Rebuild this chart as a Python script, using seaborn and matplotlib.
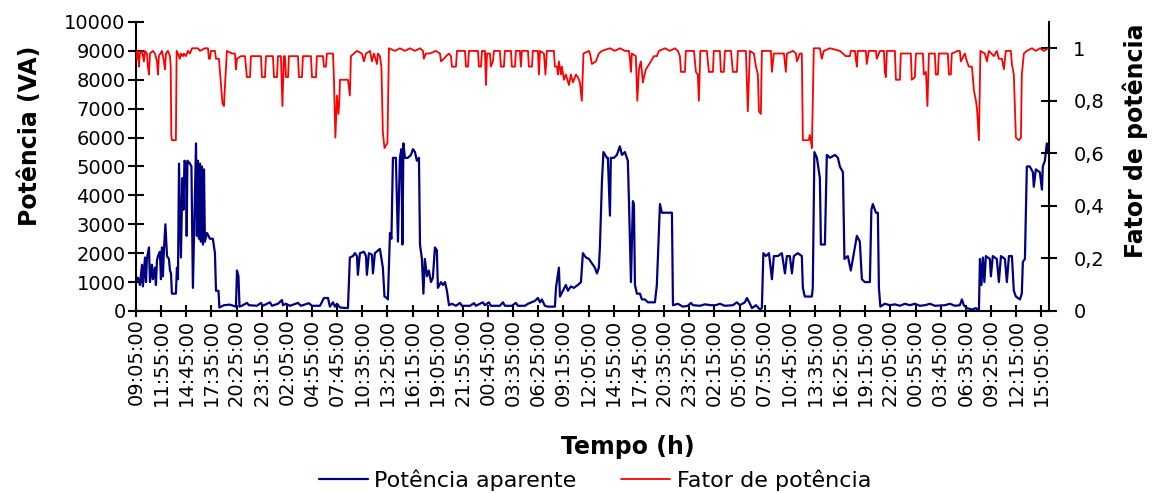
import numpy as np
import pandas as pd
import seaborn as sns
import matplotlib
matplotlib.use('Agg')
import matplotlib.pyplot as plt

# Tempo em minutos desde 09:05:00 do primeiro dia
tempo_s = [
    0, 14, 27, 41, 47, 61, 68, 74, 88, 95,
    108, 115, 128, 135, 142, 149, 162, 169, 176, 182,
    189, 199, 210, 223, 230, 237, 243, 270, 277, 284,
    291, 304, 314, 321, 328, 338, 343, 348, 365, 375,
    385, 406, 412, 419, 426, 433, 439, 446, 453, 460,
    466, 480, 500, 520, 534, 541, 558, 564, 595, 635,
    676, 683, 693, 700, 723, 750, 764, 818, 845, 858,
    906, 919, 960, 987, 994, 1014, 1041, 1095, 1115, 1169,
    1190, 1244, 1271, 1298, 1311, 1332, 1345, 1359, 1379, 1433,
    1446, 1467, 1480, 1494, 1500, 1514, 1541, 1555, 1561, 1575,
    1595, 1602, 1615, 1649, 1669, 1680, 1697, 1703, 1717, 1727,
    1737, 1757, 1771, 1784, 1794, 1801, 1808, 1818, 1838, 1859,
    1872, 1886, 1899, 1913, 1920, 1933, 1943, 1953, 1967, 1980,
    1994, 2007, 2021, 2034, 2041, 2062, 2075, 2089, 2102, 2116,
    2136, 2163, 2190, 2203, 2258, 2285, 2298, 2345, 2359, 2386,
    2399, 2460, 2481, 2494, 2541, 2568, 2582, 2629, 2650, 2697,
    2717, 2731, 2744, 2764, 2785, 2832, 2839, 2859, 2866, 2886,
    2906, 2920, 2940, 2960, 2987, 3008, 3021, 3042, 3062, 3082,
    3102, 3116, 3129, 3136, 3150, 3160, 3183, 3190, 3204, 3210,
    3231, 3251, 3271, 3285, 3305, 3325, 3332, 3346, 3359, 3366,
    3373, 3386, 3407, 3420, 3440, 3461, 3508, 3521, 3542, 3555,
    3623, 3630, 3663, 3697, 3731, 3751, 3765, 3812, 3846, 3886,
    3920, 3947, 3981, 4035, 4062, 4082, 4116, 4130, 4150, 4164,
    4191, 4218, 4231, 4241, 4258, 4279, 4299, 4312, 4339, 4366,
    4387, 4400, 4420, 4434, 4447, 4474, 4501, 4508, 4521, 4569,
    4575, 4586, 4603, 4623, 4630, 4657, 4670, 4691, 4725, 4745,
    4758, 4779, 4789, 4812, 4832, 4846, 4873, 4893, 4907, 4927,
    4961, 4971, 4981, 5002, 5015, 5022, 5032, 5062, 5096, 5130,
    5164, 5198, 5231, 5265, 5299, 5333, 5367, 5400, 5468, 5502,
    5536, 5569, 5583, 5596, 5617, 5651, 5678, 5698, 5705, 5715,
    5725, 5735, 5745, 5772, 5779, 5792, 5819, 5833, 5847, 5874,
    5887, 5901, 5921, 5934, 5948, 5975, 5988, 5995, 6009, 6022,
    6042, 6063, 6069, 6083, 6110, 6124, 6130, 6144, 6157, 6167,
]

# Potencia aparente (VA)
potencia_s = [
    1050, 1150, 900, 1600, 850, 1850, 1000, 1800, 2200, 1000,
    1600, 1100, 1500, 900, 1750, 1900, 2050, 1100, 2200, 1200,
    2100, 3000, 1900, 1800, 1400, 1300, 600, 600, 1500, 1100,
    5100, 1850, 4600, 3500, 5200, 5100, 2600, 5200, 5100, 5000,
    800, 5800, 2600, 5200, 2500, 5100, 2400, 5000, 2300, 4900,
    2400, 2700, 2500, 2500, 2000, 700, 700, 120, 200, 220,
    150, 1400, 1200, 150, 200, 280, 200, 180, 280, 180,
    300, 180, 250, 380, 200, 250, 180, 280, 180, 270,
    180, 180, 450, 450, 150, 300, 150, 250, 120, 100,
    1850, 1900, 2000, 1900, 1250, 2000, 2050, 1900, 1250, 2000,
    1950, 1300, 2000, 2150, 1500, 500, 450, 400, 2700, 2500,
    5300, 5300, 2400, 5300, 5600, 2300, 5800, 5300, 5300, 5400,
    5600, 5500, 5200, 5300, 2300, 1800, 600, 1800, 1200, 1400,
    1000, 1150, 2200, 2100, 800, 1000, 900, 1000, 700, 200,
    250, 180, 280, 180, 180, 270, 180, 300, 200, 300,
    180, 180, 300, 180, 180, 280, 180, 180, 250, 350,
    450, 300, 400, 180, 150, 150, 800, 1500, 500, 700,
    900, 700, 850, 800, 900, 1000, 2000, 1850, 1800, 1650,
    1500, 1300, 1500, 2200, 4500, 5500, 5300, 5300, 3300, 5300,
    5300, 5400, 5700, 5400, 5500, 5200, 3900, 1000, 3800, 3700,
    900, 600, 600, 400, 400, 300, 300, 900, 3700, 3400,
    3400, 200, 250, 150, 180, 280, 200, 180, 230, 200,
    200, 250, 180, 200, 300, 200, 300, 450, 250, 100,
    200, 50, 100, 2000, 1900, 2000, 1100, 1900, 1900, 2000,
    1300, 1900, 1900, 1300, 1900, 2000, 1900, 800, 500, 500,
    800, 5500, 5300, 4600, 2300, 2300, 5400, 5300, 5400, 5300,
    5000, 4800, 1800, 1900, 1400, 1800, 2600, 2400, 1100, 1000,
    1000, 3500, 3700, 3400, 3400, 800, 150, 250, 200, 230,
    180, 250, 200, 250, 180, 200, 250, 180, 200, 250,
    180, 200, 400, 200, 100, 50, 100, 0, 1800, 900,
    1850, 1000, 1900, 1800, 1200, 1900, 1800, 1000, 1900, 1800,
    1000, 1900, 1900, 700, 500, 400, 600, 1700, 1800, 5000,
    5000, 4800, 4300, 4900, 4800, 4200, 5000, 5200, 5800, 5500,
]

tempo_fp = [
    0, 7, 14, 20, 27, 41, 54, 61, 74, 81,
    88, 95, 115, 128, 142, 149, 155, 176, 189, 196,
    203, 216, 230, 235, 239, 243, 270, 275, 284, 297,
    304, 318, 324, 338, 351, 365, 379, 419, 433, 466,
    487, 493, 500, 507, 534, 541, 561, 575, 585, 595,
    602, 615, 649, 669, 676, 683, 710, 737, 750, 771,
    777, 845, 852, 872, 879, 926, 933, 953, 960, 980,
    990, 1000, 1007, 1014, 1028, 1034, 1095, 1102, 1122, 1129,
    1183, 1190, 1217, 1223, 1264, 1271, 1284, 1291, 1332, 1338,
    1348, 1359, 1369, 1375, 1379, 1433, 1446, 1453, 1474, 1494,
    1527, 1541, 1555, 1582, 1595, 1609, 1629, 1636, 1649, 1659,
    1669, 1680, 1700, 1710, 1751, 1784, 1818, 1852, 1886, 1920,
    1940, 1946, 1960, 1987, 2028, 2055, 2062, 2082, 2096, 2116,
    2129, 2136, 2163, 2170, 2224, 2231, 2244, 2251, 2312, 2318,
    2332, 2339, 2359, 2366, 2373, 2393, 2399, 2413, 2420, 2460,
    2467, 2487, 2494, 2535, 2541, 2562, 2568, 2595, 2602, 2609,
    2650, 2656, 2677, 2683, 2717, 2724, 2731, 2758, 2768, 2778,
    2825, 2832, 2846, 2852, 2859, 2873, 2879, 2893, 2906, 2927,
    2940, 2954, 2974, 2987, 3001, 3014, 3025, 3062, 3069, 3082,
    3109, 3129, 3150, 3204, 3237, 3271, 3305, 3332, 3339, 3346,
    3352, 3379, 3389, 3400, 3413, 3427, 3434, 3447, 3481, 3501,
    3521, 3535, 3576, 3609, 3643, 3663, 3677, 3684, 3711, 3717,
    3772, 3785, 3798, 3805, 3815, 3859, 3873, 3900, 3906, 3947,
    3954, 3974, 3981, 4022, 4035, 4062, 4069, 4123, 4136, 4150,
    4177, 4191, 4204, 4211, 4224, 4231, 4292, 4299, 4312, 4380,
    4393, 4400, 4441, 4461, 4468, 4488, 4501, 4508, 4548, 4555,
    4562, 4569, 4582, 4623, 4636, 4650, 4691, 4758, 4798, 4826,
    4832, 4860, 4866, 4873, 4879, 4934, 4940, 4954, 5002, 5008,
    5029, 5056, 5062, 5069, 5076, 5130, 5137, 5164, 5170, 5238,
    5244, 5265, 5272, 5319, 5326, 5340, 5350, 5360, 5400, 5407,
    5421, 5427, 5488, 5495, 5508, 5515, 5556, 5569, 5576, 5603,
    5617, 5630, 5651, 5664, 5678, 5685, 5698, 5708, 5738, 5752,
    5765, 5799, 5819, 5833, 5853, 5867, 5880, 5914, 5921, 5934,
    5948, 5968, 5982, 5988, 6002, 6022, 6056, 6083, 6110, 6137, 6167,
]

# Fator de potencia
fator_fp = [
    0.99, 0.96, 0.99, 0.93, 0.98, 0.99, 0.95, 0.99, 0.98, 0.93,
    0.90, 0.98, 0.99, 0.98, 0.95, 0.90, 0.97, 0.99, 0.95, 0.92,
    0.98, 0.99, 0.97, 0.93, 0.67, 0.65, 0.65, 0.99, 0.98, 0.96,
    0.98, 0.97, 0.98, 0.97, 0.99, 0.98, 1.0, 1.0, 0.99, 1.0,
    1.0, 0.96, 0.96, 0.99, 0.99, 0.96, 0.96, 0.86, 0.79, 0.78,
    0.86, 0.99, 0.98, 0.98, 0.92, 0.96, 0.97, 0.97, 0.89, 0.89,
    0.97, 0.97, 0.89, 0.89, 0.97, 0.97, 0.89, 0.89, 0.97, 0.97,
    0.78, 0.97, 0.97, 0.89, 0.89, 0.97, 0.97, 0.89, 0.89, 0.97,
    0.97, 0.89, 0.89, 0.97, 0.97, 0.93, 0.93, 0.98, 0.98, 0.89,
    0.66, 0.82, 0.75, 0.80, 0.88, 0.88, 0.82, 0.97, 0.98, 0.99,
    0.98, 0.95, 0.98, 0.99, 0.95, 0.98, 0.94, 0.98, 0.97, 0.93,
    0.68, 0.62, 0.64, 1.0, 0.99, 1.0, 0.99, 1.0, 0.99, 1.0,
    0.99, 0.96, 0.98, 0.98, 0.99, 0.98, 0.95, 0.96, 0.97, 0.98,
    0.97, 0.93, 0.93, 0.99, 0.99, 0.93, 0.93, 0.99, 0.99, 0.93,
    0.93, 0.99, 0.99, 0.86, 0.98, 0.98, 0.93, 0.95, 0.99, 0.99,
    0.93, 0.93, 0.99, 0.99, 0.93, 0.93, 0.99, 0.99, 0.93, 0.99,
    0.99, 0.93, 0.93, 0.99, 0.99, 0.90, 0.99, 0.98, 0.90, 0.99,
    0.99, 0.93, 0.93, 0.90, 0.95, 0.90, 0.93, 0.88, 0.90, 0.86,
    0.90, 0.87, 0.90, 0.89, 0.87, 0.80, 0.98, 0.99, 0.98, 0.94,
    0.95, 0.98, 0.99, 1.0, 0.99, 1.0, 0.99, 0.99, 0.96, 0.91,
    0.98, 0.97, 0.80, 0.92, 0.95, 0.87, 0.89, 0.92, 0.95, 0.97,
    0.97, 0.99, 1.0, 0.99, 1.0, 0.99, 0.97, 0.91, 0.91, 0.99,
    0.99, 0.91, 0.90, 0.80, 0.99, 0.99, 0.91, 0.91, 0.99, 0.99,
    0.91, 0.91, 0.99, 0.99, 0.91, 0.91, 0.99, 0.99, 0.76, 0.99,
    0.98, 0.93, 0.90, 0.76, 0.75, 0.99, 0.99, 0.91, 0.98, 0.98,
    0.91, 0.98, 0.99, 0.98, 0.95, 0.98, 0.98, 0.65, 0.65, 0.67,
    0.65, 0.62, 1.0, 1.0, 0.96, 0.99, 1.0, 0.99, 0.97, 0.97,
    0.99, 0.99, 0.96, 0.93, 0.99, 0.99, 0.94, 0.99, 0.99, 0.96,
    0.99, 0.99, 0.91, 0.89, 0.99, 0.99, 0.88, 0.88, 0.98, 0.98,
    0.88, 0.89, 0.98, 0.98, 0.90, 0.91, 0.78, 0.98, 0.98, 0.90,
    0.90, 0.98, 0.98, 0.90, 0.90, 0.98, 0.99, 0.99, 0.95, 0.98,
    0.95, 0.93, 0.93, 0.84, 0.80, 0.77, 0.65, 0.99, 0.98, 0.95,
    0.99, 0.97, 0.99, 0.96, 0.96, 0.92, 0.99, 0.99, 0.94, 0.90,
    0.66, 0.65, 0.66, 0.90, 0.98, 0.99, 1.0, 0.99, 1.0, 0.99, 1.0,
]

rotulos_tempo = [
    '09:05:00', '11:55:00', '14:45:00', '17:35:00', '20:25:00', '23:15:00',
    '02:05:00', '04:55:00', '07:45:00', '10:35:00', '13:25:00', '16:15:00',
    '19:05:00', '21:55:00', '00:45:00', '03:35:00', '06:25:00', '09:15:00',
    '12:05:00', '14:55:00', '17:45:00', '20:35:00', '23:25:00', '02:15:00',
    '05:05:00', '07:55:00', '10:45:00', '13:35:00', '16:25:00', '19:15:00',
    '22:05:00', '00:55:00', '03:45:00', '06:35:00', '09:25:00', '12:15:00',
    '15:05:00',
]
passo_rotulo = 170  # minutos entre rotulos

ticks_va = list(range(0, 10001, 1000))
ticks_fp = [0, 0.2, 0.4, 0.6, 0.8, 1.0]
rotulos_fp = ['0', '0,2', '0,4', '0,6', '0,8', '1']

sns.set_style('white')
plt.rcParams['font.family'] = ['DejaVu Sans']
plt.rcParams['text.color'] = 'black'
plt.rcParams['axes.labelcolor'] = 'black'

fig, ax = plt.subplots(figsize=(11.58, 4.93), dpi=100)
fig.subplots_adjust(left=0.1174, right=0.9059, top=0.9554, bottom=0.3692)
ax2 = ax.twinx()

sns.lineplot(x=tempo_s, y=potencia_s, ax=ax, color='#000080', linewidth=1.6,
             estimator=None, sort=False, label='Potência aparente', legend=False)
sns.lineplot(x=tempo_fp, y=fator_fp, ax=ax2, color='#ff0000', linewidth=1.3,
             estimator=None, sort=False, label='Fator de potência', legend=False)

# eixos
ax.set_xlim(0, 6172)
ax.set_ylim(0, 10000)
ax2.set_ylim(0, 1.1)
ax.set_xticks([i * passo_rotulo for i in range(len(rotulos_tempo))])
ax.set_xticklabels(rotulos_tempo)
ax.set_yticks(ticks_va)
ax2.set_yticks(ticks_fp)
ax2.set_yticklabels(rotulos_fp)

for a in (ax, ax2):
    a.spines['top'].set_visible(False)
    for s in a.spines.values():
        s.set_color('black')
        s.set_linewidth(1.5)
ax.spines['right'].set_visible(False)
ax2.spines['left'].set_visible(False)
ax2.spines['bottom'].set_visible(False)

ax.tick_params(axis='x', bottom=True, direction='inout', length=9, width=1.5,
               labelsize=14, pad=1, labelrotation=90, color='black', labelcolor='black')
ax.tick_params(axis='y', left=True, direction='inout', length=11, width=1.5,
               labelsize=14, pad=2, color='black', labelcolor='black')
ax2.tick_params(axis='y', right=True, direction='inout', length=11, width=1.5,
                labelsize=14, pad=12, color='black', labelcolor='black')

ax.set_ylabel('Potência (VA)', fontsize=17, fontweight='bold', color='black')
ax.yaxis.set_label_coords(-0.103, 0.605)
ax2.set_ylabel('Fator de potência', fontsize=17, fontweight='bold', color='black')
ax2.yaxis.set_label_coords(1.08, 0.59)
ax.set_xlabel('Tempo (h)', fontsize=17, fontweight='bold', color='black')
ax.xaxis.set_label_coords(0.539, -0.43)

leg = fig.legend(handles=[ax.lines[0], ax2.lines[0]], loc='center',
                 bbox_to_anchor=(595 / 1158, 1 - 480 / 493), ncol=2, frameon=False,
                 fontsize=16, handlelength=2.2, handletextpad=0.3, columnspacing=2.0)
for t in leg.get_texts():
    t.set_color('black')

fig.savefig('out.png', dpi=100)
